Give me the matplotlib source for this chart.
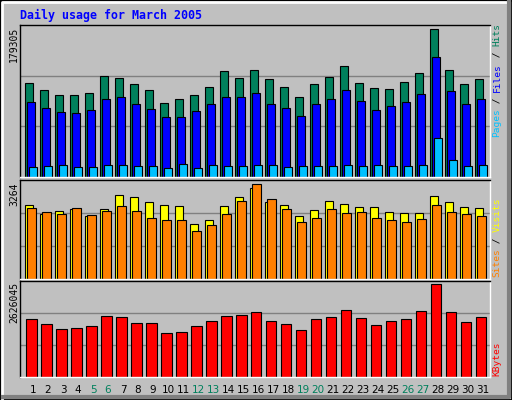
import numpy as np
import matplotlib
matplotlib.use('Agg')
import matplotlib.pyplot as plt
from matplotlib.patches import Rectangle

days = np.arange(1, 32)
weekend = [5, 6, 12, 13, 19, 20, 26, 27]

hits = [114800, 106300, 100200, 100200, 102600, 123300, 119700, 113600, 106300, 90500,
        95300, 100200, 109900, 128200, 119700, 130600, 118500, 109900, 96600, 112400,
        120900, 134300, 114800, 108700, 107500, 116000, 125800, 179305, 130600, 112400, 118500]
files = [91700, 84400, 79500, 78300, 82000, 95300, 96600, 89300, 83200, 73400,
         73400, 80700, 89300, 97800, 97800, 102600, 89300, 84400, 74600, 89300,
         95300, 105100, 92900, 82000, 86800, 91700, 101400, 145200, 103900, 89300, 95300]
pages = [12600, 13800, 15000, 12600, 12600, 15000, 15000, 13800, 13800, 11400,
         16200, 11400, 15000, 13800, 13800, 15000, 15000, 12600, 13800, 13800,
         13800, 15000, 13800, 15000, 13800, 13800, 15000, 47900, 21100, 13800, 15000]
sites = [2555, 2236, 2342, 2413, 2165, 2413, 2910, 2839, 2662, 2555,
         2520, 1881, 2023, 2520, 2839, 3123, 2662, 2555, 2165, 2378,
         2697, 2591, 2484, 2484, 2307, 2271, 2271, 2875, 2662, 2484, 2449]
visits = [2449, 2307, 2236, 2449, 2200, 2342, 2520, 2342, 2094, 2023,
          2023, 1668, 1845, 2236, 2697, 3264, 2768, 2413, 1952, 2094,
          2413, 2271, 2307, 2094, 2023, 1952, 2058, 2555, 2307, 2236, 2165]
kbytes = [1644800, 1500600, 1356300, 1385100, 1442900, 1731400, 1702600, 1529400, 1529400, 1240900,
          1269700, 1442900, 1587100, 1731400, 1760300, 1846800, 1587100, 1500600, 1327400, 1644800,
          1702600, 1904600, 1673700, 1471700, 1587100, 1644800, 1875700, 2626045, 1846800, 1558300, 1702600]

BG = '#C0C0C0'
MONO = 'DejaVu Sans Mono'

fig = plt.figure(figsize=(5.12, 4.0), dpi=100, facecolor=BG)

# frame around the whole image
fig.patches.append(Rectangle((0, 0), 1, 1, transform=fig.transFigure, fill=False,
                             edgecolor='black', linewidth=2))
fig.add_artist(plt.Line2D([0.004, 0.004, 0.994], [0.006, 0.994, 0.994], color='white', lw=2,
                          transform=fig.transFigure))
fig.add_artist(plt.Line2D([0.006, 0.994, 0.994], [0.008, 0.008, 0.994], color='#808080', lw=3,
                          transform=fig.transFigure))


def panel(rect, ymax):
    ax = fig.add_axes(rect, facecolor=BG)
    ax.set_xlim(0.13, 31.47)
    ax.set_ylim(0, ymax)
    for f in (1 / 3, 2 / 3):
        ax.axhline(ymax * f, color='#808080', lw=1, zorder=0)
    ax.spines['left'].set_color('black')
    ax.spines['top'].set_color('black')
    ax.spines['right'].set_color('white')
    ax.spines['bottom'].set_color('white')
    for s in ax.spines.values():
        s.set_linewidth(1)
    ax.set_xticks([])
    ax.set_yticks([])
    return ax


bar_kw = dict(edgecolor='black', linewidth=0.8, zorder=2)

ax1 = panel([0.039, 0.5575, 0.918, 0.38], max(hits) * 1.03)
ax1.bar(days - 0.27, hits, width=0.49, color='#00805C', **bar_kw)
ax1.bar(days - 0.13, files, width=0.49, color='#0000FF', **bar_kw)
ax1.bar(days, pages, width=0.49, color='#00C0FF', **bar_kw)

ax2 = panel([0.039, 0.3025, 0.918, 0.2475], max(visits) * 1.045)
ax2.bar(days - 0.25, sites, width=0.53, color='#FFFF00', **bar_kw)
ax2.bar(days - 0.08, visits, width=0.6, color='#FF8000', **bar_kw)

ax3 = panel([0.039, 0.0575, 0.918, 0.24], max(kbytes) * 1.035)
ax3.bar(days - 0.1, kbytes, width=0.67, color='#FF0000', **bar_kw)
ax3.set_xticks(days)
ax3.set_xticklabels([str(d) for d in days], fontsize=7.5)
ax3.tick_params(axis='x', length=0, pad=6)
for lbl, d in zip(ax3.get_xticklabels(), days):
    if d in weekend:
        lbl.set_color('#00805C')

# title
fig.text(20 / 512, 1 - 15 / 400, 'Daily usage for March 2005', color='#0000FF',
         family=MONO, weight='bold', fontsize=8.4, va='center', ha='left')

# max value labels on the left
for val, ytop in ((max(hits), 27), (max(visits), 182), (max(kbytes), 282)):
    fig.text(14 / 512, 1 - ytop / 400, str(val), rotation=90, family=MONO, fontsize=7,
             va='top', ha='center')

# legends on the right, reading bottom to top
FS = 6.8
CH = 0.6 * FS * 100 / 72  # pixels per char


def legend(parts, ybottom):
    y = ybottom
    for txt, col in parts:
        fig.text(497 / 512, 1 - y / 400, txt, rotation=90, family=MONO, fontsize=FS,
                 color=col, va='bottom', ha='center')
        y -= len(txt) * CH


legend([('Pages', '#00C0FF'), (' / ', 'black'), ('Files', '#0000FF'),
        (' / ', 'black'), ('Hits', '#00805C')], 137)
legend([('Sites', '#FF8000'), (' / ', 'black'), ('Visits', '#FFFF00')], 277)
legend([('KBytes', '#FF0000')], 376)

fig.savefig('out.png', dpi=100, facecolor=BG)
